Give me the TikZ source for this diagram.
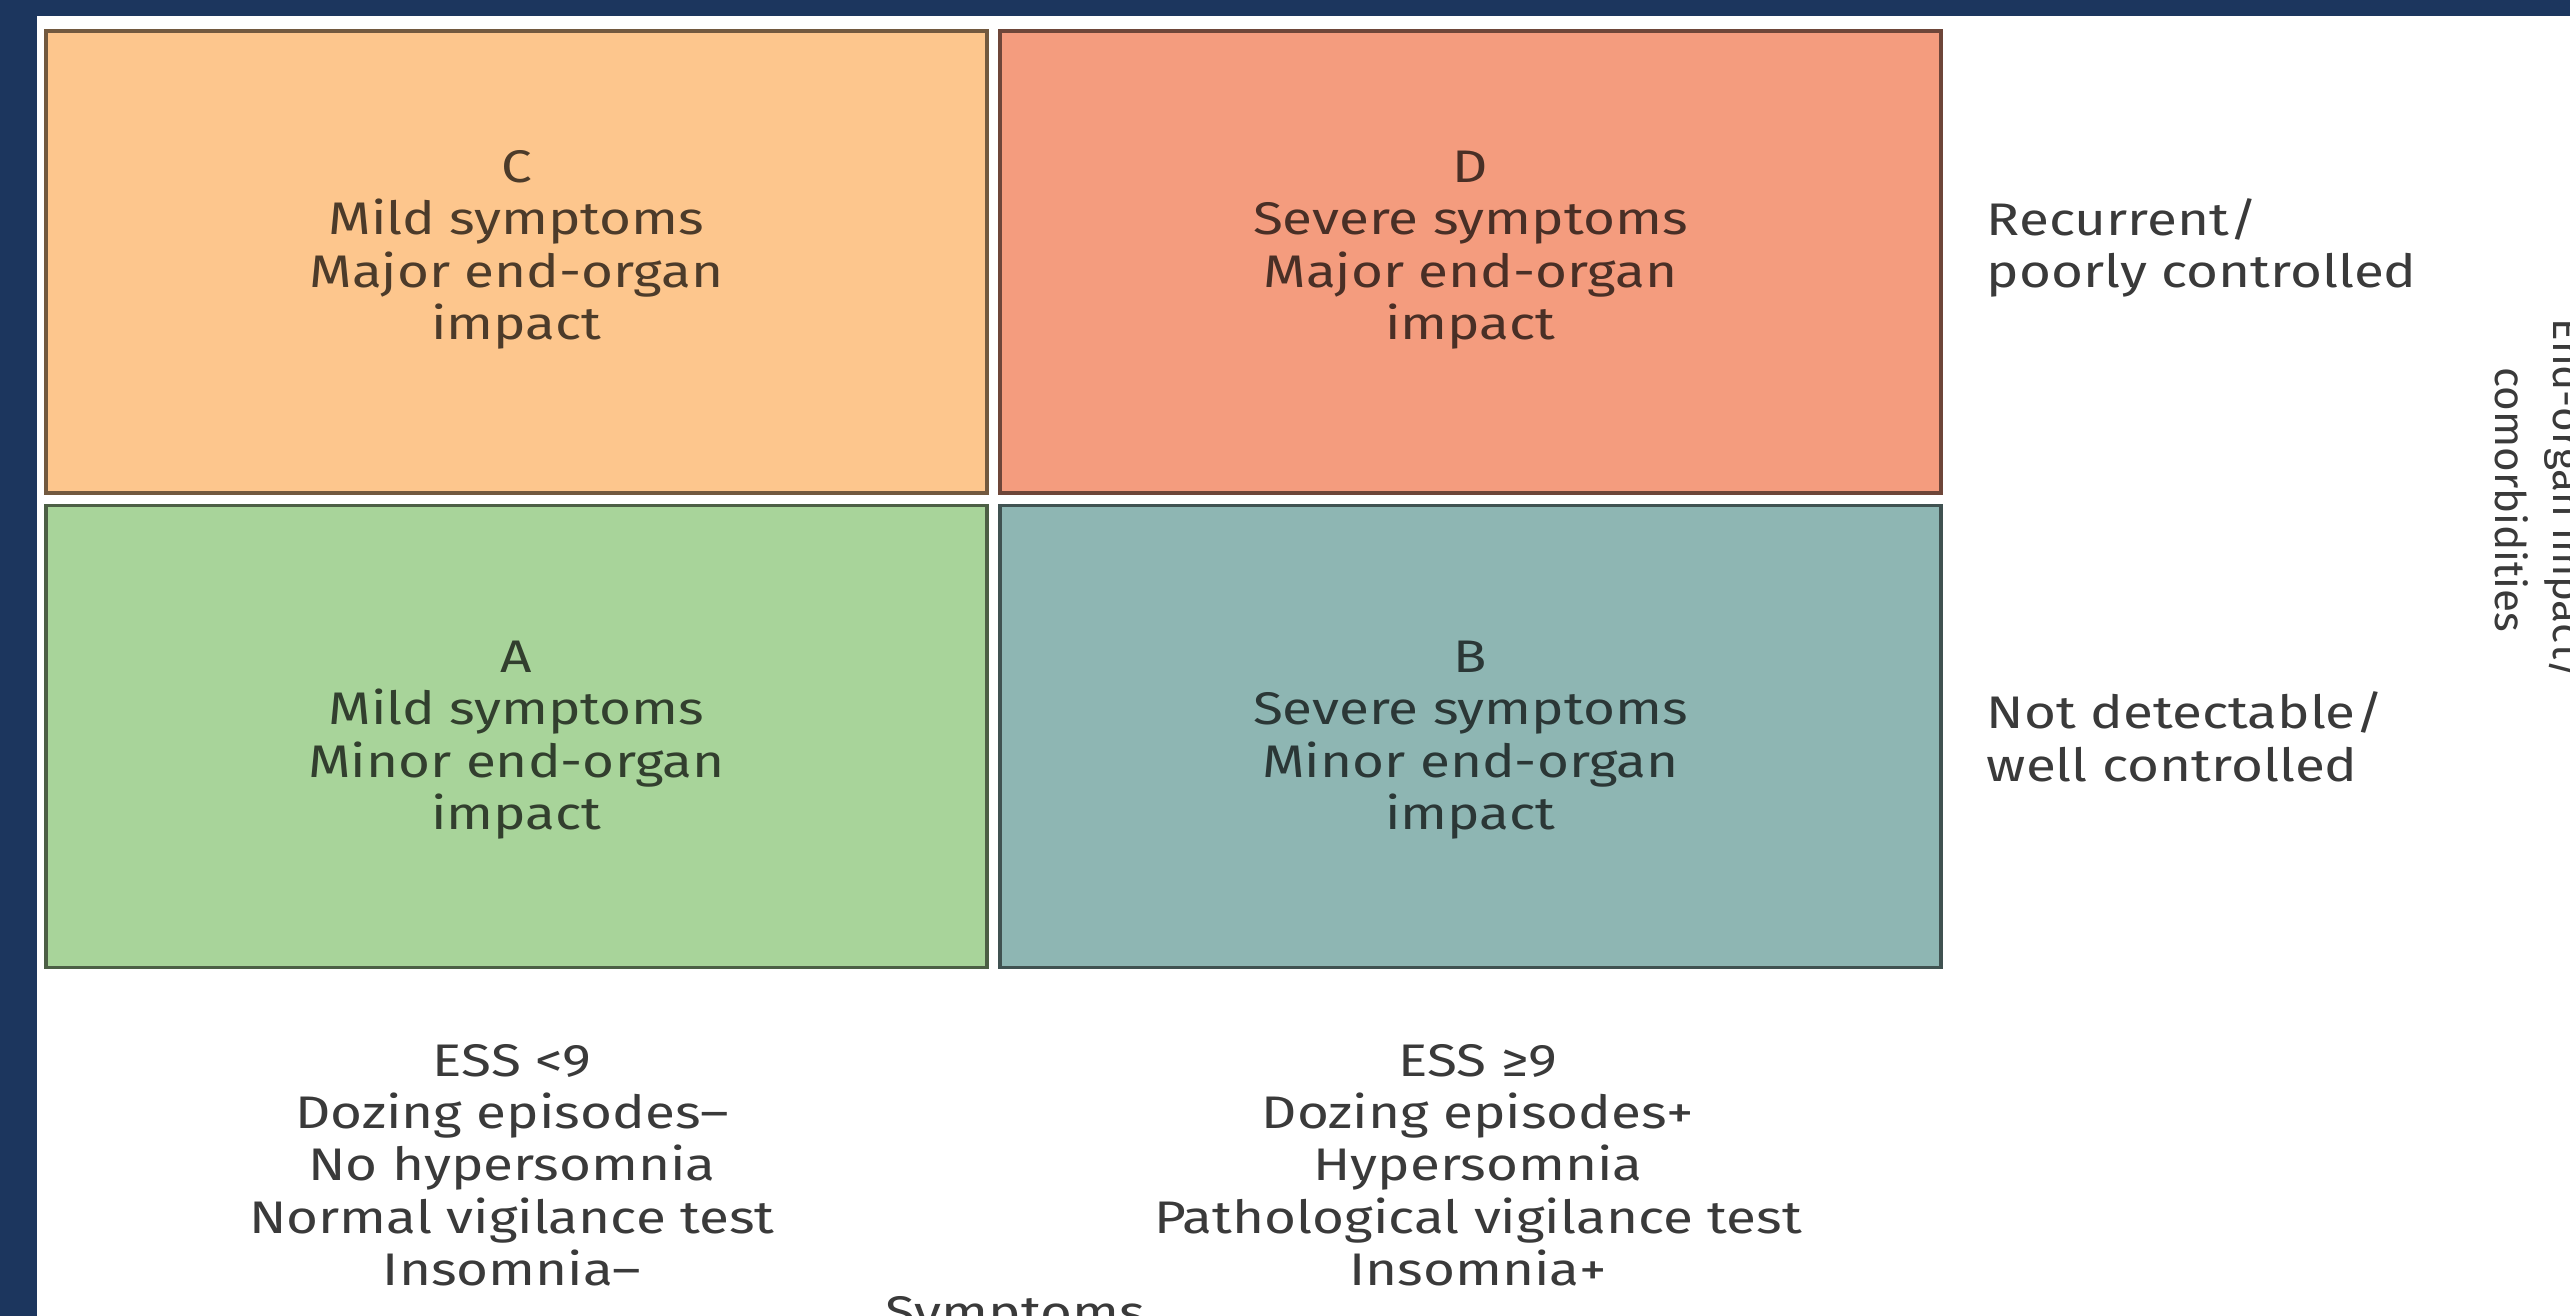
\documentclass[tikz,border=0pt]{standalone}
\usepackage{fontspec}
\setmainfont{Fira Sans}[FakeStretch=1.2]
\newfontfamily\rotfont{Fira Sans}
\definecolor{navy}{HTML}{1C365E}
\definecolor{cC}{HTML}{FDC68D}
\definecolor{cD}{HTML}{F49C7E}
\definecolor{cA}{HTML}{A8D49A}
\definecolor{cB}{HTML}{8EB6B3}
\definecolor{txt}{HTML}{3A3A3A}
\tikzset{
  quad/.style={rectangle, draw=#1!45!black, fill=#1, line width=1pt,
    minimum width=94.1mm, minimum height=46.2mm, inner sep=0pt},
  quadtext/.style={align=center, text=#1!30!black, inner sep=0pt,
    font=\fontsize{13pt}{14.9pt}\selectfont},
  sidetext/.style={align=left, text=txt, inner sep=0pt, anchor=west,
    font=\fontsize{13pt}{14.9pt}\selectfont},
  bottext/.style={align=center, text=txt, inner sep=0pt,
    font=\fontsize{13pt}{14.9pt}\selectfont},
}
\begin{document}
\begin{tikzpicture}[x=0.1mm, y=-0.1mm]
\useasboundingbox (0,0) rectangle (2570,1316);
\clip (0,0) rectangle (2570,1316);
\fill[navy] (0,0) rectangle (2570,1316);
\fill[white] (37,16) rectangle (2570,1316);
% quadrants
\node[quad=cC] (C) at (516.5,262) {};
\node[quad=cD] (D) at (1470.5,262) {};
\node[quad=cA] (A) at (516.5,736.5) {};
\node[quad=cB] (B) at (1470.5,736.5) {};
\node[quadtext=cC] (Ct) at (516.5,250) {C\\Mild symptoms\\Major end-organ\\impact};
\node[quadtext=cD] (Dt) at (1470.5,250) {D\\Severe symptoms\\Major end-organ\\impact};
\node[quadtext=cA] (At) at (516.5,740) {A\\Mild symptoms\\Minor end-organ\\impact};
\node[quadtext=cB] (Bt) at (1470.5,740) {B\\Severe symptoms\\Minor end-organ\\impact};
% right labels
\node[sidetext] (R1) at (1986,248) {Recurrent/\\poorly controlled};
\node[sidetext] (R2) at (1986,737) {Not detectable/\\well controlled};
\node[align=center, text=txt, inner sep=0pt, rotate=-90,
  font=\rotfont\fontsize{12pt}{16.5pt}\selectfont] (Ax) at (2541,500)
  {End-organ impact/\\comorbidities};
% bottom labels
\node[bottext] (L1) at (512,1165) {ESS <9\\Dozing episodes–\\No hypersomnia\\Normal vigilance test\\Insomnia–};
\node[bottext] (L2) at (1478,1165) {ESS ≥9\\Dozing episodes+\\Hypersomnia\\Pathological vigilance test\\Insomnia+};
\node[bottext, anchor=north] (S) at (1015,1296) {Symptoms};
\end{tikzpicture}
\end{document}
